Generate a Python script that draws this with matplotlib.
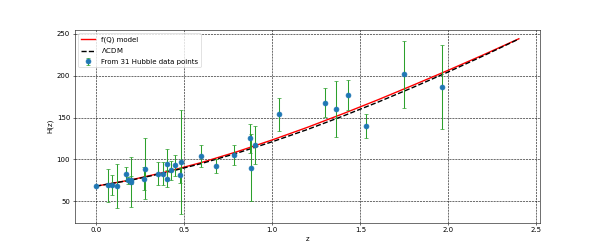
import numpy as np
import matplotlib
matplotlib.use("Agg")
import matplotlib.pyplot as plt

# Hubble data points (z, H(z), sigma)
z_obs = [0.0, 0.07, 0.09, 0.12, 0.17, 0.1791, 0.1993, 0.2, 0.27, 0.28, 0.3519,
         0.3802, 0.4, 0.4004, 0.4247, 0.4497, 0.4783, 0.48, 0.5929, 0.6797,
         0.7812, 0.8754, 0.88, 0.9, 1.037, 1.3, 1.363, 1.43, 1.53, 1.75, 1.965]
H_obs = [67.8, 69, 69, 68.6, 83, 75, 75, 72.9, 77, 88.8, 83,
         83, 95, 77, 87.1, 92.8, 80.9, 97, 104, 92,
         105, 125, 90, 117, 154, 168, 160, 177, 140, 202, 186.5]
H_err = [0.9, 19.6, 12, 26.2, 8, 4, 5, 29.6, 14, 36.6, 14,
         13.5, 17, 10.2, 11.2, 12.9, 9, 62, 13, 8,
         12, 17, 40, 23, 20, 17, 33.6, 18, 14, 40, 50.4]

# model curves
z_curve = [0.0, 0.2, 0.4, 0.6, 0.8, 1.0, 1.2, 1.4, 1.6, 1.8, 2.0, 2.2, 2.4]
H_fq = [68.0, 75.6, 85.2, 96.4, 109.2, 123.3, 138.4, 154.5, 171.3, 188.8, 206.7, 225.2, 244.3]
H_lcdm = [68.0, 75.3, 84.4, 95.2, 107.5, 121.1, 135.8, 151.7, 168.5, 186.2, 204.7, 224.0, 244.0]

fig, ax = plt.subplots(figsize=(12, 5))

ax.plot(z_curve, H_fq, color='red', lw=2, label='f(Q) model')
ax.plot(z_curve, H_lcdm, color='black', ls='--', lw=2, label=r'$\Lambda$CDM')
ax.errorbar(z_obs, H_obs, yerr=H_err, fmt='o', color='tab:blue', ecolor='tab:green',
            capsize=3, markersize=7, label='From 31 Hubble data points')

ax.set_xlabel('z')
ax.set_ylabel('H(z)')
ax.grid(color='k', linestyle='--')
ax.legend(loc='upper left')

fig.savefig('out.png', dpi=50)
